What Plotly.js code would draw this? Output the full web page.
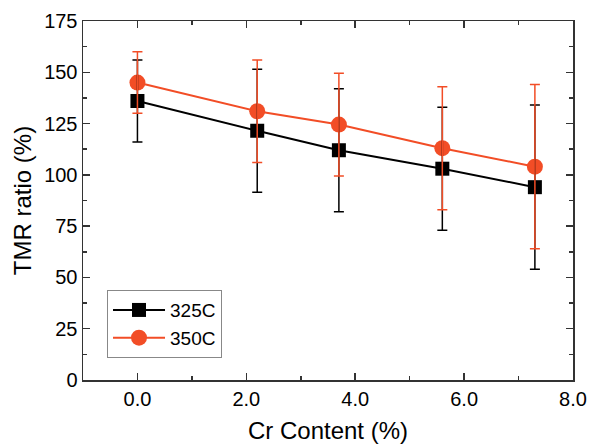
<!DOCTYPE html>
<html>
<head>
<meta charset="utf-8">
<script src="https://cdn.plot.ly/plotly-3.0.1.min.js"></script>
<style>html,body{margin:0;padding:0;background:#fff;}#chart{width:589px;height:444px;}</style>
</head>
<body>
<div id="chart"></div>
<script>
const crContent = [0.0, 2.2, 3.7, 5.6, 7.3];
const tmr325 = [136, 121.5, 112, 103, 94];
const err325 = [20, 30, 30, 30, 40];
const tmr350 = [145, 131, 124.5, 113, 104];
const err350 = [15, 25, 25, 30, 40];
const seriesNames = ['325C', '350C'];

const BLACK = '#000000';
const RED = '#F24D26';
const FONT = 'Liberation Sans, Arial, sans-serif';

const traces = [
  {
    x: crContent, y: tmr325, name: seriesNames[0], type: 'scatter', mode: 'lines+markers',
    line: {color: BLACK, width: 2},
    marker: {symbol: 'square', size: 14, color: BLACK}
  },
  {
    x: crContent, y: tmr350, name: seriesNames[1], type: 'scatter', mode: 'lines+markers',
    line: {color: RED, width: 2},
    marker: {symbol: 'circle', size: 16, color: RED}
  },
  {
    x: crContent, y: tmr325, type: 'scatter', mode: 'markers', showlegend: false, hoverinfo: 'skip',
    marker: {size: 1, opacity: 0, color: BLACK},
    error_y: {type: 'data', array: err325, visible: true, color: BLACK, thickness: 1.5, width: 5}
  },
  {
    x: crContent, y: tmr350, type: 'scatter', mode: 'markers', showlegend: false, hoverinfo: 'skip',
    marker: {size: 1, opacity: 0, color: RED},
    error_y: {type: 'data', array: err350, visible: true, color: RED, thickness: 1.5, width: 5}
  }
];

const axisCommon = {
  showline: true, linecolor: '#333', linewidth: 1.5, mirror: 'allticks',
  ticks: 'inside', ticklen: 7, tickwidth: 1.5, tickcolor: '#333',
  showgrid: false, zeroline: false,
  tickfont: {family: FONT, size: 20, color: '#000'}
};

const layout = {
  width: 589, height: 444,
  margin: {l: 83, r: 16, t: 21, b: 64},
  paper_bgcolor: '#fff', plot_bgcolor: '#fff',
  font: {family: FONT, color: '#000'},
  showlegend: true,
  xaxis: Object.assign({}, axisCommon, {
    range: [-1, 8], dtick: 2, tick0: 0, tickformat: '.1f',
    minor: {dtick: 1, tick0: 0, ticks: 'inside', ticklen: 4, tickwidth: 1.5, tickcolor: '#333'},
    title: {text: 'Cr Content (%)', font: {size: 24, family: FONT}, standoff: 14}
  }),
  yaxis: Object.assign({}, axisCommon, {
    range: [0, 175], dtick: 25, tick0: 0,
    minor: {dtick: 12.5, tick0: 0, ticks: 'inside', ticklen: 4, tickwidth: 1.5, tickcolor: '#333'},
    title: {text: 'TMR ratio (%)', font: {size: 24, family: FONT}, standoff: 5}
  }),
  legend: {
    x: 0.049, y: 0.061, xanchor: 'left', yanchor: 'bottom',
    bordercolor: '#888', borderwidth: 1, bgcolor: '#fff',
    font: {size: 19, family: FONT},
    itemwidth: 52, tracegroupgap: 0
  }
};

Plotly.newPlot('chart', traces, layout, {displayModeBar: false, staticPlot: true});
</script>
</body>
</html>
